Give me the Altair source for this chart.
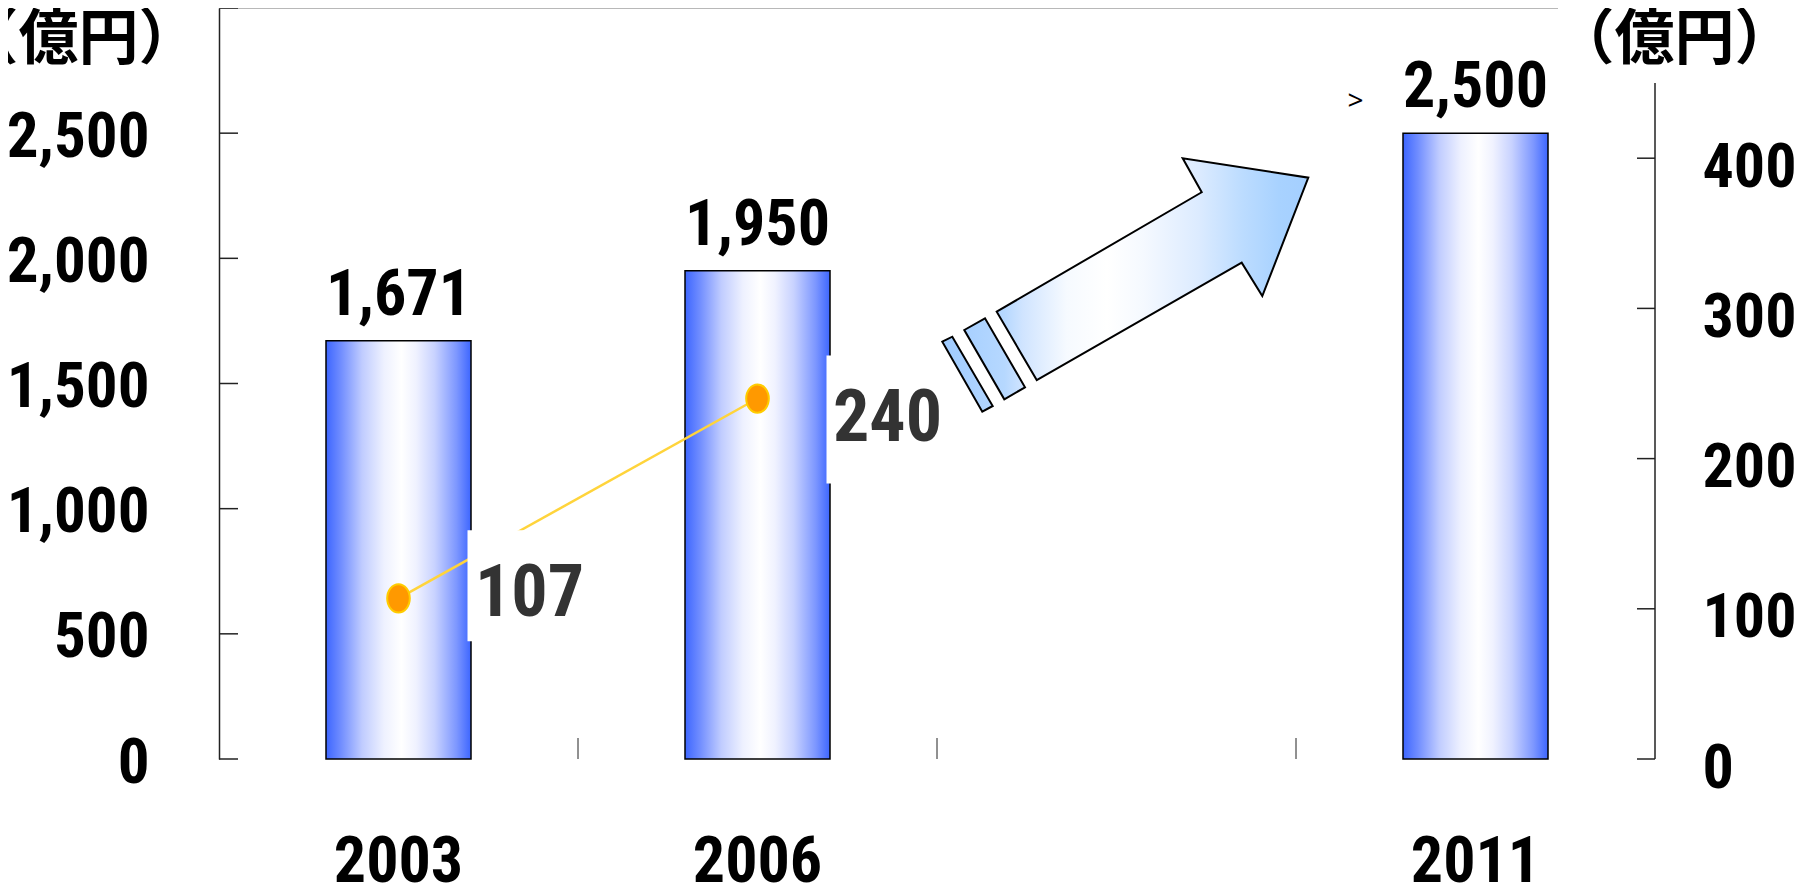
import altair as alt
import pandas as pd

# ---- data ----
categories = ["2003", "2006", " ", "2011"]
bar_years = ["2003", "2006", "2011"]
bar_values = [1671, 1950, 2500]
line_years = ["2003", "2006"]
line_values = [107, 240]
left_tick_values = [0, 500, 1000, 1500, 2000, 2500, 3000]
left_label_values = [0, 500, 1000, 1500, 2000, 2500]
right_tick_values = [0, 100, 200, 300, 400]
right_axis_span = [0, 450]
left_domain = [0, 3000]
right_domain = [0, 500]
unit_text = "（億円）"

# ---- layout / style ----
W, H = 1436, 751
NARROW = "Roboto Condensed, Noto Sans Condensed, Liberation Sans Narrow, Arial Narrow, Roboto, sans-serif"
CJK = "Noto Sans CJK JP"

bar_grad = alt.Gradient(
    gradient="linear", x1=0, x2=1, y1=0, y2=0,
    stops=[
        alt.GradientStop(offset=0.0, color="#3d66ff"),
        alt.GradientStop(offset=0.1, color="#6f8cff"),
        alt.GradientStop(offset=0.25, color="#c0ccff"),
        alt.GradientStop(offset=0.4, color="#eef1ff"),
        alt.GradientStop(offset=0.52, color="#ffffff"),
        alt.GradientStop(offset=0.62, color="#f0f2ff"),
        alt.GradientStop(offset=0.75, color="#c8d2ff"),
        alt.GradientStop(offset=0.9, color="#7d97ff"),
        alt.GradientStop(offset=1.0, color="#3d66ff"),
    ],
)
arrow_grad = alt.Gradient(
    gradient="linear", x1=0, x2=1, y1=0, y2=0,
    stops=[
        alt.GradientStop(offset=0.0, color="#9fcbff"),
        alt.GradientStop(offset=0.17, color="#b6d8ff"),
        alt.GradientStop(offset=0.22, color="#d0e4ff"),
        alt.GradientStop(offset=0.34, color="#f6faff"),
        alt.GradientStop(offset=0.45, color="#ffffff"),
        alt.GradientStop(offset=0.55, color="#f5f9ff"),
        alt.GradientStop(offset=0.70, color="#dcebff"),
        alt.GradientStop(offset=0.82, color="#bcdcff"),
        alt.GradientStop(offset=0.92, color="#a8d2ff"),
        alt.GradientStop(offset=1.0, color="#a4cfff"),
    ],
)

ARROW_PATH = (
    "M-79.8,109.2L-119.8,40.8L85.2,-78.6L66.2,-112.6L191.8,-93.2L145.8,25.2L125.2,-8.2Z"
    "M-152.2,59.15L-131.5,47.45L-91.5,116.45L-112.2,128.45Z"
    "M-174.2,70.85L-164.2,65.85L-123.8,135.15L-134.2,140.85Z"
)
ELLIPSE_PATH = "M-0.8,0A0.8,1,0,1,0,0.8,0A0.8,1,0,1,0,-0.8,0Z"
BOX107_PATH = "M69,-68H190V43H69Z"
BOX240_PATH = "M69,-43H190V85H69Z"

bars_df = pd.DataFrame({"year": bar_years, "value": bar_values})
line_df = pd.DataFrame({"year": line_years, "value": line_values})
lt_df = pd.DataFrame({"v": left_tick_values})
rt_df = pd.DataFrame({"v": right_tick_values})
xt_df = pd.DataFrame({"year": categories[1:]})
xl_df = pd.DataFrame({"year": categories})
arrow_df = pd.DataFrame({"year": [categories[2]], "value": [bar_values[1]]})
gt_df = pd.DataFrame({"year": [bar_years[2]], "value": [bar_values[2]]})
raxis_df = pd.DataFrame({"a": [right_axis_span[0]], "b": [right_axis_span[1]]})

x_scale = alt.Scale(domain=categories, paddingInner=0, paddingOuter=0)
yl = alt.Scale(domain=left_domain, nice=False)
yr = alt.Scale(domain=right_domain, nice=False)


def xenc(axis=None, **kw):
    return alt.X("year:N", scale=x_scale, sort=categories, axis=axis, **kw)


x_axis = alt.Axis(
    title=None, labels=False, ticks=False, tickSize=0,
    domainColor="#404040", domainWidth=2.5,
)
left_axis = alt.Axis(
    values=left_label_values, labelExpr="format(datum.value, ',')", grid=False,
    ticks=False, tickSize=0,
    labelFont=NARROW, labelFontSize=63, labelFontWeight="bold", labelColor="black",
    labelPadding=70, labelOffset=4, labelFlush=False, labelLimit=400,
    domainColor="#222222", domainWidth=1.5,
    title=unit_text, titleAngle=0, titleX=-141, titleY=32, titleAlign="center",
    titleBaseline="middle", titleFont=CJK, titleFontSize=60, titleFontWeight="bold",
    titleColor="black",
)
right_axis = alt.Axis(
    orient="right", values=right_tick_values, labelExpr="format(datum.value, ',')",
    grid=False, ticks=False, tickSize=0,
    domain=False, labelFont=NARROW, labelFontSize=62, labelFontWeight="bold",
    labelColor="black", labelPadding=47, labelOffset=9, labelFlush=False, labelLimit=400,
    title=unit_text, titleAngle=0, titleX=19, titleY=32, titleAlign="center",
    titleBaseline="middle", titleFont=CJK, titleFontSize=60, titleFontWeight="bold",
    titleColor="black",
)

# ---- left-scale group ----
bars = alt.Chart(bars_df).mark_bar(
    width=alt.RelativeBandSize(145 / 359), fill=bar_grad, stroke="black", strokeWidth=1.5
).encode(
    x=xenc(axis=x_axis),
    y=alt.Y("value:Q", scale=yl, axis=left_axis),
)
bar_labels = alt.Chart(bars_df).mark_text(
    dy=-26, baseline="alphabetic", font=NARROW, fontSize=64, fontWeight="bold", color="black"
).encode(
    x=xenc(), y=alt.Y("value:Q", scale=yl), text=alt.Text("value:Q", format=",d"),
)
x_labels = alt.Chart(xl_df).mark_text(
    baseline="alphabetic", font=NARROW, fontSize=64, fontWeight="bold", color="black"
).encode(x=xenc(), y=alt.value(H + 123), text="year:N")
arrow = alt.Chart(arrow_df).mark_point(
    shape=ARROW_PATH, size=4, filled=True, fill=arrow_grad, stroke="black",
    strokeWidth=2, opacity=1, strokeJoin="miter",
).encode(x=xenc(), y=alt.Y("value:Q", scale=yl))
top_line = alt.Chart(lt_df).transform_filter(alt.datum.v == left_domain[1]).mark_rule(
    color="#a0a0a0", strokeWidth=1.5
).encode(y=alt.Y("v:Q", scale=yl), x=alt.value(0), x2=alt.value(1339))
left_ticks = alt.Chart(lt_df).mark_rule(color="#222222", strokeWidth=1.5).encode(
    y=alt.Y("v:Q", scale=yl), x=alt.value(0), x2=alt.value(19)
)
x_ticks = alt.Chart(xt_df).mark_rule(color="#222222", strokeWidth=1).encode(
    x=xenc(bandPosition=0), y=alt.value(H - 21), y2=alt.value(H)
)
gt_mark = alt.Chart(gt_df).mark_text(
    text=">", dx=-120, dy=-31, baseline="middle", font="Noto Sans", fontSize=28, color="black"
).encode(x=xenc(), y=alt.Y("value:Q", scale=yl))

left_group = alt.layer(top_line, bars, bar_labels, x_labels, arrow, left_ticks, x_ticks, gt_mark)

# ---- right-scale group ----
raxis_line = alt.Chart(raxis_df).mark_rule(color="#222222", strokeWidth=1.5).encode(
    y=alt.Y("a:Q", scale=yr), y2="b:Q", x=alt.value(W)
)
right_ticks = alt.Chart(rt_df).mark_rule(color="#222222", strokeWidth=1.5).encode(
    y=alt.Y("v:Q", scale=yr), x=alt.value(W - 18), x2=alt.value(W)
)
line = alt.Chart(line_df).mark_line(color="#ffd43b", strokeWidth=2.5).encode(
    x=xenc(), y=alt.Y("value:Q", scale=yr, axis=right_axis)
)
points = alt.Chart(line_df).mark_point(
    shape=ELLIPSE_PATH, size=800, filled=True, fill="#ff9900", stroke="#ffcc00",
    strokeWidth=2, opacity=1,
).encode(x=xenc(), y=alt.Y("value:Q", scale=yr))

base_r = alt.Chart(line_df)
box107 = base_r.transform_filter(alt.datum.year == "2003").mark_point(
    shape=BOX107_PATH, size=4, filled=True, fill="white", strokeWidth=0, opacity=1
).encode(x=xenc(), y=alt.Y("value:Q", scale=yr))
box240 = base_r.transform_filter(alt.datum.year == "2006").mark_point(
    shape=BOX240_PATH, size=4, filled=True, fill="white", strokeWidth=0, opacity=1
).encode(x=xenc(), y=alt.Y("value:Q", scale=yr))
lab107 = base_r.transform_filter(alt.datum.year == "2003").mark_text(
    dx=131, dy=-4, baseline="middle", font=NARROW, fontSize=72, fontWeight="bold", color="#333333"
).encode(x=xenc(), y=alt.Y("value:Q", scale=yr), text="value:Q")
lab240 = base_r.transform_filter(alt.datum.year == "2006").mark_text(
    dx=130, dy=20, baseline="middle", font=NARROW, fontSize=72, fontWeight="bold", color="#333333"
).encode(x=xenc(), y=alt.Y("value:Q", scale=yr), text="value:Q")

right_group = alt.layer(raxis_line, right_ticks, line, points, box107, box240, lab107, lab240)

chart = (
    alt.layer(left_group, right_group)
    .resolve_scale(y="independent")
    .properties(
        width=W, height=H,
        padding={"left": 211, "top": 0, "right": 142, "bottom": 125},
        autosize=alt.AutoSizeParams(type="none"),
        background="white",
    )
    .configure_view(stroke=None)
)

chart.save("out.html", embed_options={"renderer": "svg", "actions": False})
